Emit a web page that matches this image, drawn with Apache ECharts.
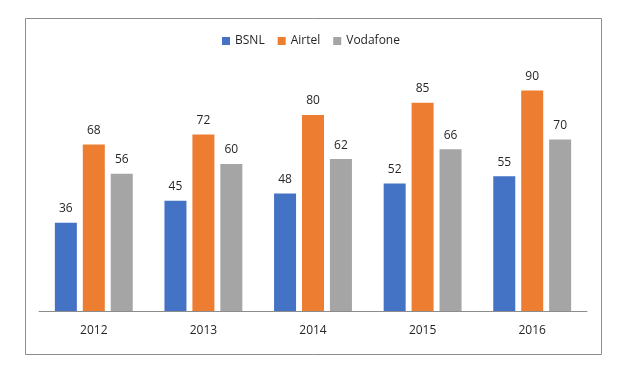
<!DOCTYPE html>
<html>
<head>
<meta charset="utf-8">
<script src="https://cdn.jsdelivr.net/npm/echarts@6/dist/echarts.min.js"></script>
<style>
  html, body { margin: 0; padding: 0; background: #fff; }
  #chart { width: 622px; height: 377px; }
</style>
</head>
<body>
<div id="chart"></div>
<script>
// 数据
var years = ['2012', '2013', '2014', '2015', '2016'];
var bsnl = [36, 45, 48, 52, 55];
var airtel = [68, 72, 80, 85, 90];
var vodafone = [56, 60, 62, 66, 70];

var chart = echarts.init(document.getElementById('chart'));

var labelStyle = {
  show: true,
  position: 'top',
  distance: 8,
  color: '#262626',
  fontSize: 12,
  fontFamily: 'Open Sans'
};

function makeSeries(name, data, color) {
  return {
    name: name,
    type: 'bar',
    data: data,
    barWidth: 22,
    barGap: '27%',
    itemStyle: { color: color },
    label: labelStyle
  };
}

var option = {
  animation: false,
  textStyle: { fontFamily: 'Open Sans' },
  graphic: [{
    type: 'rect',
    shape: { x: 25.5, y: 18.5, width: 576, height: 336 },
    style: { fill: 'none', stroke: '#8c8c8c', lineWidth: 1 },
    silent: true
  }],
  legend: {
    top: 30,
    left: 'center',
    itemWidth: 8,
    itemHeight: 8,
    itemGap: 13,
    icon: 'rect',
    textStyle: { color: '#262626', fontSize: 12, fontFamily: 'Open Sans' },
    data: ['BSNL', 'Airtel', 'Vodafone']
  },
  grid: { left: 39, right: 35, top: 66, bottom: 66 },
  xAxis: {
    type: 'category',
    data: years,
    axisLine: { lineStyle: { color: '#8c8c8c', width: 1 } },
    axisTick: { show: false },
    axisLabel: { color: '#262626', fontSize: 12, margin: 14 }
  },
  yAxis: {
    type: 'value',
    min: 0,
    max: 100,
    show: false,
    splitLine: { show: false }
  },
  series: [
    makeSeries('BSNL', bsnl, '#4472C4'),
    makeSeries('Airtel', airtel, '#ED7D31'),
    makeSeries('Vodafone', vodafone, '#A5A5A5')
  ]
};

chart.setOption(option);
</script>
</body>
</html>
